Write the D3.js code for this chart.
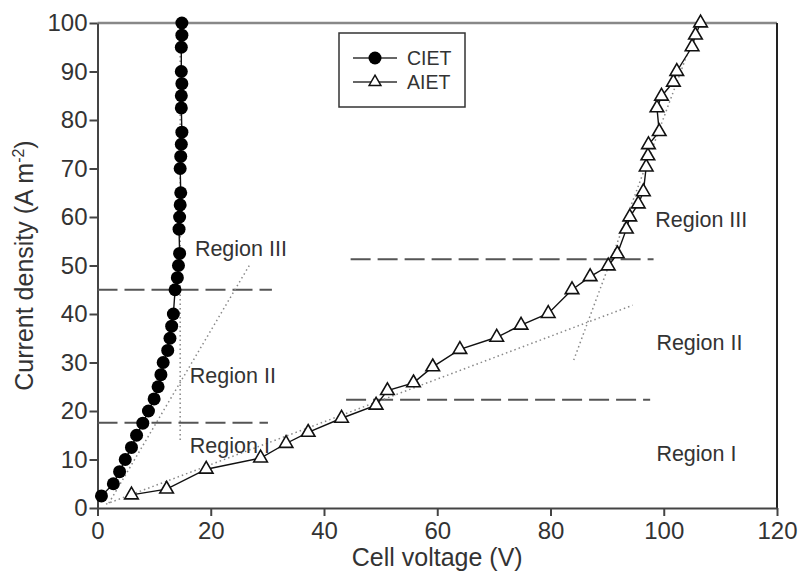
<!DOCTYPE html>
<head>
	<meta charset="utf-8">
	<title>Current density vs cell voltage</title>
	<script src="https://cdn.jsdelivr.net/npm/d3@7"></script>
	<style>
		body { margin: 0; background: white; }
		text { font-family: 'Liberation Sans', Arial, sans-serif; fill: #333; }
		.axis path, .axis line { stroke: #444; stroke-width: 2px; }
		.axis text { font-size: 24px; fill: #333; }
		.ref { stroke: #555; stroke-width: 2px; stroke-dasharray: 20,7; fill: none; }
		.fit { stroke: #888; stroke-width: 1.5px; stroke-dasharray: 1.5,3; fill: none; }
		.region { font-size: 21.5px; }
	</style>
</head>
<body>
	<script>
		// CIET series (cell voltage V, current density A m-2)
		var cietV = [0.7, 2.8, 3.9, 4.9, 6.0, 6.9, 8.0, 9.0, 10.0, 10.7, 11.2, 11.6, 12.4, 12.8, 13.1, 13.4,
			13.7, 14.1, 14.3, 14.5, 14.4, 14.5, 14.6, 14.7, 14.6, 14.7, 14.8, 14.9, 14.8, 14.8, 14.9, 14.8,
			14.8, 14.9, 14.9];
		var cietJ = [2.5, 5, 7.5, 10, 12.5, 15, 17.5, 20, 22.5, 25, 27.5, 30, 32.5, 35, 37.5, 40,
			45, 47.5, 50, 52.5, 57.5, 60, 62.5, 65, 70, 72.5, 75, 77.5, 82.5, 85, 87.5, 90,
			95, 97.5, 100];

		// AIET series
		var aietV = [6.0, 12.2, 19.2, 28.8, 33.3, 37.2, 43.1, 49.2, 51.2, 55.8, 59.2, 64.0, 70.5, 74.8, 79.6,
			83.8, 87.0, 90.2, 91.8, 93.4, 94.0, 95.5, 96.4, 96.9, 97.2, 97.3, 99.2, 98.8, 99.6, 101.7, 102.3,
			105.0, 105.6, 106.5];
		var aietJ = [2.7, 3.9, 8.0, 10.3, 13.3, 15.6, 18.5, 21.2, 24.2, 25.8, 29.1, 32.7, 35.2, 37.7, 40.1,
			45.0, 47.7, 49.9, 52.4, 57.5, 60.0, 62.7, 65.2, 70.3, 72.6, 74.9, 77.6, 82.5, 84.9, 87.8, 90.0,
			95.1, 97.5, 100];

		// region boundaries (dashed): x from, x to, current density
		var refFrom = [0, 0, 44.7, 43.9];
		var refTo = [30.8, 30.1, 98.2, 97.6];
		var refJ = [45, 17.6, 51.3, 22.3];

		// fitted lines (dotted): x1, y1, x2, y2
		var fitLines = [
			[2, 1, 26.8, 50],
			[14.6, 14, 14.6, 100],
			[1.5, 0.8, 94.5, 41.8],
			[84.1, 30.5, 106.2, 100]
		];

		// region labels: text, voltage, current density
		var regionText = ["Region III", "Region II", "Region I", "Region III", "Region II", "Region I"];
		var regionV = [17.2, 16.3, 16.3, 98.5, 98.7, 98.7];
		var regionJ = [51.9, 25.8, 11.3, 57.9, 32.6, 9.6];

		var xTicks = [0, 20, 40, 60, 80, 100, 120];
		var yTicks = [0, 10, 20, 30, 40, 50, 60, 70, 80, 90, 100];
		var seriesNames = ["CIET", "AIET"];

		var width = 799;
		var height = 576;
		var margin = {left: 97.5, top: 23, right: 22, bottom: 68};

		var svg = d3.select("body")
			.append("svg")
			.attr("width", width)
			.attr("height", height);

		var x = d3.scaleLinear().domain([0, 120]).range([margin.left, width - margin.right]);
		var y = d3.scaleLinear().domain([0, 100]).range([height - margin.bottom, margin.top]);

		// frame: top and right
		svg.append("line")
			.attr("x1", x(0)).attr("x2", x(120))
			.attr("y1", y(100)).attr("y2", y(100))
			.attr("stroke", "#888").attr("stroke-width", 2.5);
		svg.append("line")
			.attr("x1", x(120)).attr("x2", x(120))
			.attr("y1", y(100)).attr("y2", y(0))
			.attr("stroke", "#222").attr("stroke-width", 2);

		svg.append("g")
			.attr("class", "axis")
			.attr("transform", "translate(0," + y(0) + ")")
			.call(d3.axisBottom(x).tickValues(xTicks).tickSize(8).tickSizeOuter(0).tickPadding(6))
			.selectAll("text").attr("font-family", null);

		svg.append("g")
			.attr("class", "axis")
			.attr("transform", "translate(" + x(0) + ",0)")
			.call(d3.axisLeft(y).tickValues(yTicks).tickSize(8).tickSizeOuter(0).tickPadding(2))
			.selectAll("text").attr("font-family", null);

		// axis titles
		svg.append("text")
			.attr("x", (x(0) + x(120)) / 2)
			.attr("y", 566)
			.attr("text-anchor", "middle")
			.style("font-size", "25px")
			.text("Cell voltage (V)");

		var yt = svg.append("text")
			.attr("transform", "translate(33," + (y(0) + y(100)) / 2 + ") rotate(-90)")
			.attr("text-anchor", "middle")
			.style("font-size", "25px");
		yt.append("tspan").text("Current density (A m");
		yt.append("tspan").attr("dy", -9).style("font-size", "16px").text("-2");
		yt.append("tspan").attr("dy", 9).text(")");

		// dashed region boundaries
		svg.append("g").selectAll("line")
			.data(refJ)
			.enter().append("line")
				.attr("class", "ref")
				.attr("x1", function(d, i) { return x(refFrom[i]); })
				.attr("x2", function(d, i) { return x(refTo[i]); })
				.attr("y1", function(d) { return y(d); })
				.attr("y2", function(d) { return y(d); });

		// dotted fits
		svg.append("g").selectAll("line")
			.data(fitLines)
			.enter().append("line")
				.attr("class", "fit")
				.attr("x1", function(d) { return x(d[0]); })
				.attr("y1", function(d) { return y(d[1]); })
				.attr("x2", function(d) { return x(d[2]); })
				.attr("y2", function(d) { return y(d[3]); });

		// region labels
		svg.append("g").selectAll("text")
			.data(regionText)
			.enter().append("text")
				.attr("class", "region")
				.attr("x", function(d, i) { return x(regionV[i]); })
				.attr("y", function(d, i) { return y(regionJ[i]); })
				.text(function(d) { return d; });

		var line = d3.line()
			.x(function(d) { return x(d[0]); })
			.y(function(d) { return y(d[1]); });

		var ciet = d3.zip(cietV, cietJ);
		var aiet = d3.zip(aietV, aietJ);
		var tri = d3.symbol().type(d3.symbolTriangle).size(80);

		// AIET
		svg.append("path")
			.attr("d", line(aiet))
			.attr("fill", "none")
			.attr("stroke", "#111")
			.attr("stroke-width", 1.4);
		svg.append("g").selectAll("path")
			.data(aiet)
			.enter().append("path")
				.attr("d", tri)
				.attr("transform", function(d) { return "translate(" + x(d[0]) + "," + y(d[1]) + ")"; })
				.attr("fill", "white")
				.attr("stroke", "#111")
				.attr("stroke-width", 1.6);

		// CIET
		svg.append("path")
			.attr("d", line(ciet))
			.attr("fill", "none")
			.attr("stroke", "#111")
			.attr("stroke-width", 1.4);
		svg.append("g").selectAll("circle")
			.data(ciet)
			.enter().append("circle")
				.attr("cx", function(d) { return x(d[0]); })
				.attr("cy", function(d) { return y(d[1]); })
				.attr("r", 6.5)
				.attr("fill", "#000");

		// legend
		var lg = svg.append("g").attr("transform", "translate(339,33)");
		lg.append("rect")
			.attr("width", 126).attr("height", 74)
			.attr("fill", "white").attr("stroke", "#333").attr("stroke-width", 1.5);
		var rows = lg.selectAll("g")
			.data(seriesNames)
			.enter().append("g")
				.attr("transform", function(d, i) { return "translate(0," + (25 + i * 24) + ")"; });
		rows.append("line")
			.attr("x1", 14).attr("x2", 58)
			.attr("stroke", "#333").attr("stroke-width", 1.4);
		rows.each(function(d, i) {
			var g = d3.select(this);
			if (i === 0) {
				g.append("circle").attr("cx", 36).attr("r", 6.5).attr("fill", "#000");
			} else {
				g.append("path").attr("d", d3.symbol().type(d3.symbolTriangle).size(60))
					.attr("transform", "translate(36,0)")
					.attr("fill", "white").attr("stroke", "#111").attr("stroke-width", 1.5);
			}
		});
		rows.append("text")
			.attr("x", 68).attr("dy", "0.36em")
			.style("font-size", "19.5px")
			.text(function(d) { return d; });
	</script>
</body>
